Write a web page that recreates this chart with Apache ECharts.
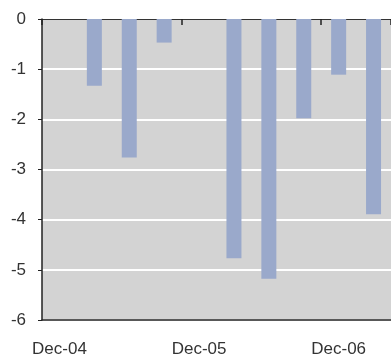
<!DOCTYPE html>
<html>
<head>
<meta charset="utf-8">
<script src="https://cdn.jsdelivr.net/npm/echarts@6/dist/echarts.min.js"></script>
<style>
  html, body { margin: 0; padding: 0; background: #fff; }
  #main { width: 391px; height: 358px; }
</style>
</head>
<body>
<div id="main"></div>
<script>
// quarterly categories, label shown every 4th
const quarters = ['Dec-04', 'Mar-05', 'Jun-05', 'Sep-05', 'Dec-05', 'Mar-06', 'Jun-06', 'Sep-06', 'Dec-06', 'Mar-07']
const values = [0, -1.33, -2.76, -0.47, 0, -4.77, -5.18, -1.98, -1.11, -3.89]
const yTicks = [0, -1, -2, -3, -4, -5, -6]

var myChart = echarts.init(document.getElementById('main'))

var option = {
  animation: false,
  textStyle: { fontFamily: 'Liberation Sans, Arial, sans-serif' },
  grid: {
    left: 42,
    top: 19,
    width: 350,
    height: 302,
  },
  xAxis: [
    {
      // bottom axis: labels only
      type: 'category',
      data: quarters,
      position: 'bottom',
      axisLine: { show: true, onZero: false, lineStyle: { color: '#222', width: 1.5 } },
      axisTick: { show: false },
      axisLabel: {
        color: '#333',
        fontSize: 17,
        margin: 21,
        interval: 3,
      },
      splitLine: { show: false },
    },
    {
      // top axis (at zero): line and ticks pointing down
      type: 'category',
      data: quarters,
      position: 'top',
      axisLine: { show: true, onZero: false, lineStyle: { color: '#333', width: 1 } },
      axisTick: {
        show: true,
        inside: true,
        length: 6,
        interval: function (i) { return i % 4 === 0 },
        lineStyle: { color: '#222', width: 1.5 },
      },
      axisLabel: { show: false },
    },
  ],
  yAxis: {
    type: 'value',
    min: -6,
    max: 0,
    interval: 1,
    axisLine: { show: true, lineStyle: { color: '#222', width: 1.5 } },
    axisTick: { show: true, length: 4, lineStyle: { color: '#222' } },
    axisLabel: {
      color: '#333',
      fontSize: 17,
      margin: 16,
      formatter: function (v) { return yTicks.indexOf(v) >= 0 ? String(v) : '' },
    },
    splitLine: { show: true, lineStyle: { color: '#ffffff', width: 2 } },
    splitArea: { show: true, areaStyle: { color: ['#d3d3d3', '#d3d3d3'] } },
  },
  series: [
    {
      type: 'bar',
      data: values,
      barWidth: 15,
      itemStyle: { color: '#9aa9cb' },
      silent: true,
    },
  ],
}

option && myChart.setOption(option)
</script>
</body>
</html>
